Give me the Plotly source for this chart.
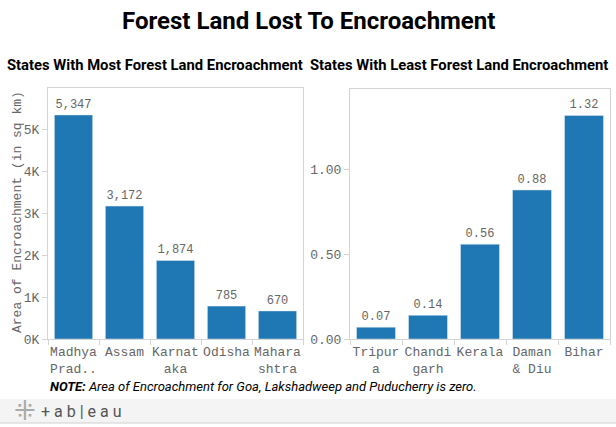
import plotly.graph_objects as go

# Data
most_states = ["Madhya<br>Prad..", "Assam", "Karnat<br>aka", "Odisha", "Mahara<br>shtra"]
most_values = [5347, 3172, 1874, 785, 670]
least_states = ["Tripur<br>a", "Chandi<br>garh", "Kerala", "Daman<br>& Diu", "Bihar"]
least_values = [0.07, 0.14, 0.56, 0.88, 1.32]
left_tickvals = [0, 1000, 2000, 3000, 4000, 5000]
left_ticktext = ["0K", "1K", "2K", "3K", "4K", "5K"]
right_tickvals = [0, 0.5, 1.0]

W, H = 616, 427
BLUE = "#1f77b4"
GRAY = "#666666"
LINE = "#d4d4d4"
MONO = "Liberation Mono, Courier New, monospace"

def px(x):
    return x / W

def py(y):
    return 1 - y / H

fig = go.Figure()
fig.add_trace(go.Bar(x=most_states, y=most_values, marker_color=BLUE,
                     text=most_values, texttemplate="%{y:,}", textposition="outside",
                     cliponaxis=False,
                     textfont=dict(family=MONO, size=12, color=GRAY),
                     xaxis="x", yaxis="y"))
fig.add_trace(go.Bar(x=least_states, y=least_values, marker_color=BLUE,
                     text=least_values, texttemplate="%{y:.2f}", textposition="outside",
                     cliponaxis=False,
                     textfont=dict(family=MONO, size=12, color=GRAY),
                     xaxis="x2", yaxis="y2"))

axis_common = dict(showline=True, linecolor=LINE, linewidth=1, mirror=True,
                   showgrid=False, zeroline=False, automargin=False,
                   tickfont=dict(family=MONO, size=13, color=GRAY))

fig.update_layout(
    width=W, height=H,
    margin=dict(l=0, r=0, t=0, b=0),
    paper_bgcolor="white", plot_bgcolor="white",
    showlegend=False,
    bargap=0.25,
    xaxis=dict(domain=[px(48), px(303)], anchor="y", ticks="outside", tickson="boundaries",
               ticklen=5, tickcolor=LINE, tickangle=0, **axis_common),
    yaxis=dict(domain=[py(339), py(88)], anchor="x", range=[0, 5990],
               tickvals=left_tickvals, ticktext=left_ticktext,
               ticks="outside", ticklen=5, tickcolor=LINE,
               **axis_common),
    xaxis2=dict(domain=[px(350), px(610)], anchor="y2", ticks="outside", tickson="boundaries",
                ticklen=5, tickcolor=LINE, tickangle=0, **axis_common),
    yaxis2=dict(domain=[py(339), py(89)], anchor="x2", range=[0, 1.476],
                tickvals=right_tickvals, tickformat=".2f",
                ticks="outside", ticklen=5, tickcolor=LINE,
                **axis_common),
)

# y-axis title
fig.add_annotation(text="Area of Encroachment (in sq km)", x=px(17), y=py(212),
                   xref="paper", yref="paper", showarrow=False, textangle=-90,
                   xanchor="center", yanchor="middle",
                   font=dict(family=MONO, size=13, color=GRAY))

fig.add_annotation(text="<b>Forest Land Lost To Encroachment</b>", x=0.5, y=py(21),
                   xref="paper", yref="paper", showarrow=False, xanchor="center", yanchor="middle",
                   font=dict(family="Roboto", size=24, color="black"))
fig.add_annotation(text="<b>States With Most Forest Land Encroachment</b>", x=px(155), y=py(65),
                   xref="paper", yref="paper", showarrow=False, xanchor="center", yanchor="middle",
                   font=dict(family="Roboto", size=14.8, color="black"))
fig.add_annotation(text="<b>States With Least Forest Land Encroachment</b>", x=px(459), y=py(65),
                   xref="paper", yref="paper", showarrow=False, xanchor="center", yanchor="middle",
                   font=dict(family="Roboto", size=14.8, color="black"))
fig.add_annotation(text="<b><i>NOTE:</i></b><i> Area of Encroachment for Goa, Lakshadweep and Puducherry is zero.</i>",
                   x=px(48), y=py(386), xref="paper", yref="paper", showarrow=False,
                   xanchor="left", yanchor="middle",
                   font=dict(family="Roboto", size=13, color="black"))

# footer band
fig.add_shape(type="rect", xref="paper", yref="paper", x0=0, x1=1, y0=py(423), y1=py(399),
              fillcolor="#f4f4f4", line=dict(width=0), layer="below")
fig.add_shape(type="line", xref="paper", yref="paper", x0=0, x1=1, y0=py(423), y1=py(423),
              line=dict(color="#d0d0d0", width=1))
fig.add_annotation(text="⁜", x=px(24.5), y=py(411), xref="paper", yref="paper",
                   showarrow=False, xanchor="center", yanchor="middle",
                   font=dict(family="DejaVu Sans", size=26, color="#aaaaaa"))
fig.add_annotation(text="+ a b | e a u", x=px(39), y=py(411), xref="paper", yref="paper",
                   showarrow=False, xanchor="left", yanchor="middle",
                   font=dict(family="Roboto", size=16, color="#555555"))

fig.write_html("out.html", config={"displayModeBar": False},
               post_script="document.body.style.margin='0';")
